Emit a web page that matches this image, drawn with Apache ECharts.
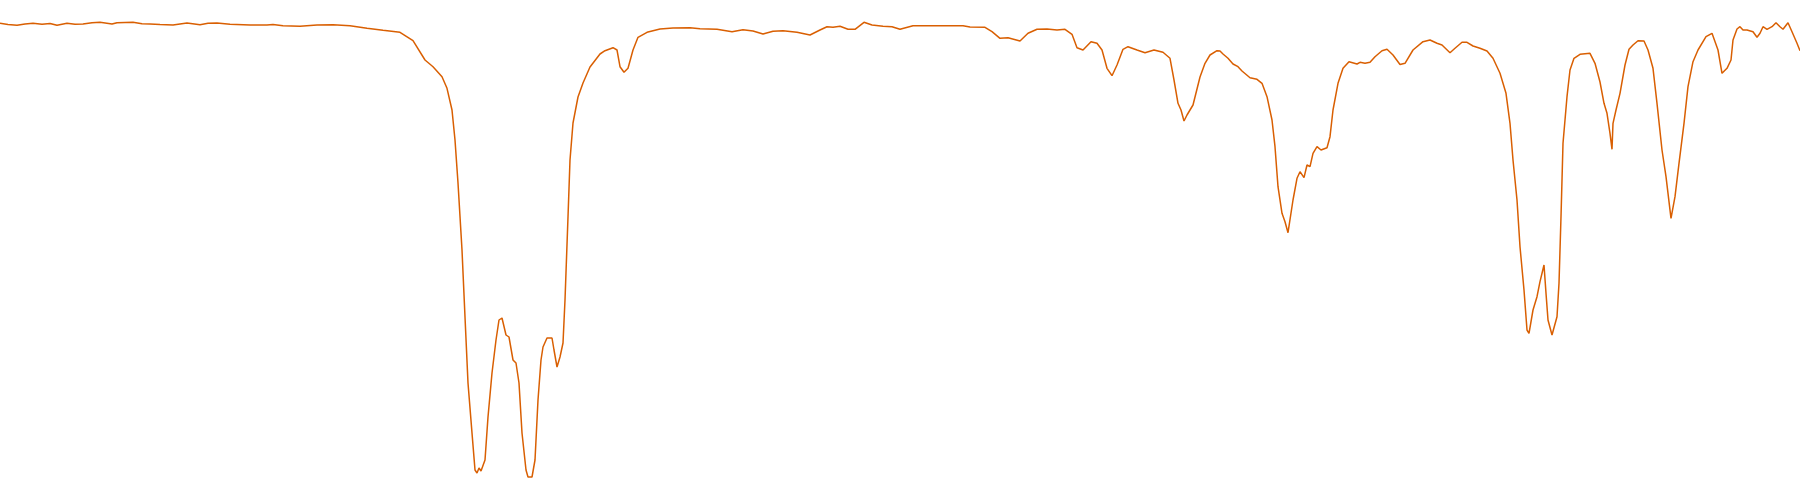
<!DOCTYPE html>
<html>
<head>
<meta charset="utf-8">
<script src="https://cdn.jsdelivr.net/npm/echarts@6/dist/echarts.min.js"></script>
<style>
html,body{margin:0;padding:0;background:#fff;}
#chart{width:1800px;height:500px;}
</style>
</head>
<body>
<div id="chart"></div>
<script>
const wavenumbers = [
4000,3984,3966,3950,3934,3916,3900,3886,3866,3850,3834,3816,3800,3776,3766,3734,3716,3700,3680,3654,
3626,3600,3584,3566,3540,3500,3466,3454,3434,3400,3366,3334,3300,3266,3234,3200,3174,3150,3134,3116,
3106,3096,3090,3084,3076,3070,3064,3056,3050,3046,3042,3038,3034,3030,3024,3016,3008,3002,2996,2988,
2982,2974,2968,2962,2956,2948,2944,2936,2930,2924,2918,2914,2906,2902,2896,2892,2886,2880,2874,2870,
2864,2860,2854,2844,2834,2820,2800,2790,2774,2766,2760,2752,2744,2734,2724,2706,2680,2654,2620,2600,
2566,2536,2514,2494,2474,2454,2434,2406,2380,2360,2346,2334,2320,2304,2290,2272,2256,2234,2216,2200,
2174,2134,2074,2060,2030,2016,2000,1984,1960,1944,1926,1906,1886,1870,1856,1846,1834,1818,1806,1796,
1786,1776,1766,1754,1744,1726,1710,1692,1674,1660,1652,1644,1638,1632,1626,1614,1600,1590,1580,1566,
1560,1554,1544,1534,1524,1516,1500,1486,1476,1466,1456,1450,1444,1436,1430,1424,1420,1414,1406,1400,
1392,1386,1380,1374,1366,1358,1346,1340,1334,1324,1314,1302,1286,1280,1270,1260,1250,1236,1226,1214,
1200,1190,1174,1154,1140,1126,1116,1100,1090,1076,1066,1054,1040,1026,1014,1000,988,980,974,966,
960,952,946,942,934,926,920,912,908,904,896,886,882,878,874,866,860,852,840,820,
810,800,792,786,780,776,774,768,760,750,742,734,724,712,704,694,686,676,668,658,
650,642,632,624,614,604,588,576,572,564,556,552,546,542,538,534,526,520,514,506,
494,486,480,474,466,456,448,440,434,424,416,406,400
];
const transmittance = [
95.34,95.1,94.94,95.2,95.34,95.14,95.3,94.94,95.34,95.14,95.2,95.44,95.54,95.2,95.46,95.54,95.24,95.2,95.1,95.0,
95.4,95.06,95.34,95.4,95.14,95.0,95.0,95.1,94.86,94.74,95.0,95.06,94.86,94.34,93.94,93.54,91.86,88.0,86.66,84.66,
82.34,78.0,72.0,63.4,50.0,36.6,23.4,13.4,6.0,5.4,6.4,5.8,5.4,8.0,16.6,25.4,32.0,36.0,36.4,33.0,
32.6,28.0,27.4,23.4,13.4,6.0,4.6,4.6,8.0,20.0,28.0,30.6,32.4,32.2,32.4,30.0,26.6,28.6,31.4,40.0,
56.6,68.0,75.4,80.6,83.4,86.6,89.2,89.86,90.46,90.0,86.66,85.54,86.34,90.0,92.54,93.54,94.2,94.4,94.46,94.26,
94.14,93.66,94.06,93.8,93.2,93.74,93.86,93.54,93.0,94.0,94.66,94.54,94.74,94.14,94.14,95.54,95.0,94.74,94.66,94.14,
94.86,94.86,94.86,94.6,94.54,93.66,92.34,92.46,91.8,93.34,94.14,94.2,94.0,94.14,93.14,90.46,90.0,91.66,91.34,90.0,
86.34,84.86,87.0,90.14,90.66,90.0,89.46,90.0,89.54,88.34,84.0,79.34,78.0,75.8,77.0,79.0,84.6,87.34,89.0,89.86,
89.8,89.2,88.34,87.2,86.66,85.8,84.46,84.14,83.34,80.66,76.0,70.66,62.66,57.34,55.66,53.46,53.46,60.0,64.34,65.66,
64.46,67.0,66.66,69.34,70.66,70.0,70.46,72.66,78.0,83.34,86.34,87.66,87.2,87.54,87.34,87.54,88.66,89.86,90.14,89.0,
87.1,87.34,90.0,91.66,92.0,91.34,91.0,89.46,90.34,91.54,91.54,90.8,90.34,89.8,88.34,85.34,81.34,75.34,68.0,60.0,
50.66,42.0,34.0,33.34,38.0,40.66,43.66,47.0,41.34,36.0,33.0,36.66,43.34,56.66,71.34,80.66,86.0,88.34,89.14,89.34,
87.34,83.6,79.34,77.34,73.34,70.14,75.34,78.0,81.34,87.0,90.14,91.0,91.86,91.8,90.0,86.34,79.34,70.0,64.66,56.34,
60.66,67.34,75.34,82.66,87.66,90.0,92.66,93.34,93.14,90.0,85.34,85.2,86.34,86.66,88.0,92.0,94.2,94.66,94.0,94.0,
93.66,92.54,93.34,94.66,94.14,94.66,95.46,94.66,94.14,95.46,93.66,91.34,89.86
];

const chart = echarts.init(document.getElementById('chart'));
chart.setOption({
  animation: false,
  backgroundColor: '#ffffff',
  grid: { left: 0, right: 0, top: 0, bottom: 0 },
  xAxis: { type: 'value', min: 400, max: 4000, inverse: true, show: false },
  yAxis: { type: 'value', min: 0, max: 100, show: false },
  series: [{
    type: 'line',
    data: wavenumbers.map((w, i) => [w, transmittance[i]]),
    showSymbol: false,
    lineStyle: { color: '#d95f02', width: 1.5 },
    clip: false
  }]
});
</script>
</body>
</html>
